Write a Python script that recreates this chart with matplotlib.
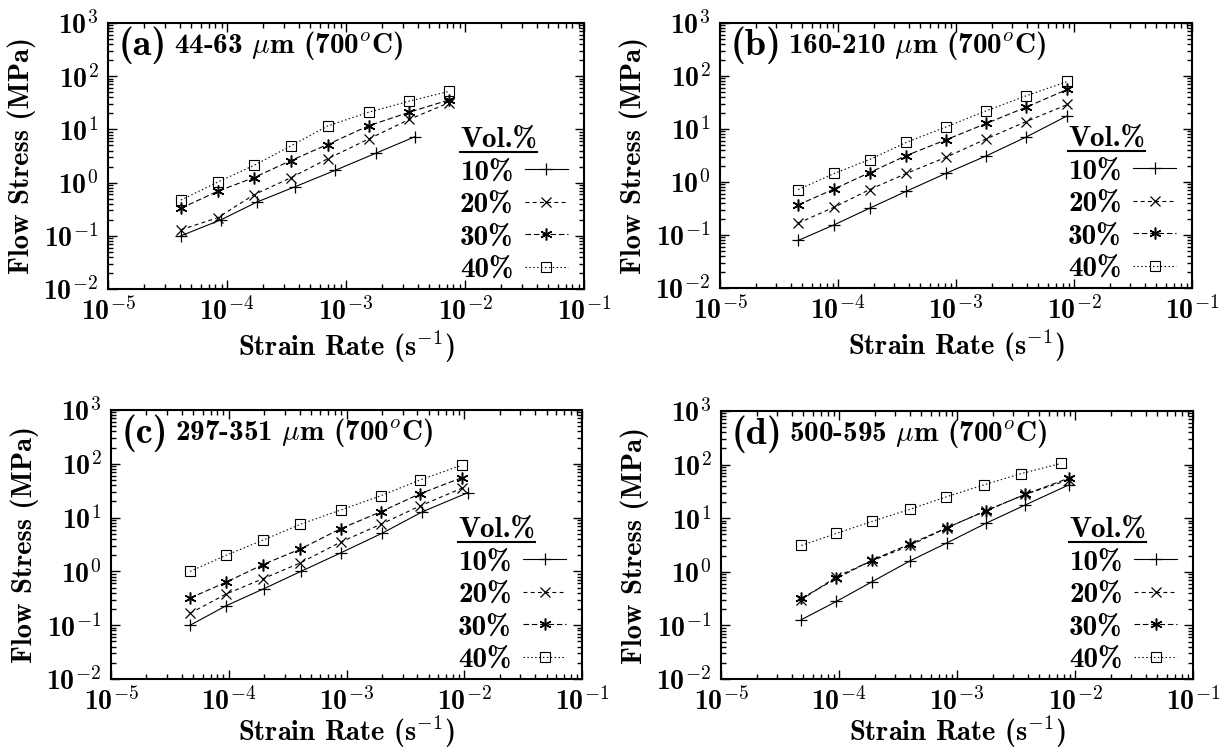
import matplotlib
matplotlib.use("Agg")
import numpy as np
import matplotlib.pyplot as plt
from matplotlib.ticker import LogLocator, NullFormatter, FuncFormatter
from matplotlib.lines import Line2D

plt.rcParams['font.family'] = ['cmb10', 'DejaVu Serif']
plt.rcParams['mathtext.fontset'] = 'cm'
plt.rcParams['axes.formatter.use_mathtext'] = True

# strain rates (1/s)
rate_a10 = [4.1e-5, 8.9e-5, 1.78e-4, 3.7e-4, 8.1e-4, 1.8e-3, 3.8e-3]
rate_a = [4.1e-5, 8.4e-5, 1.68e-4, 3.45e-4, 7.0e-4, 1.55e-3, 3.4e-3, 7.4e-3]
rate_b = [4.6e-5, 9.3e-5, 1.85e-4, 3.8e-4, 8.3e-4, 1.8e-3, 3.9e-3, 8.8e-3]
rate_c = [4.7e-5, 9.5e-5, 1.95e-4, 4.05e-4, 8.9e-4, 1.95e-3, 4.2e-3, 9.5e-3]
rate_c10 = [4.7e-5, 9.5e-5, 2.0e-4, 4.1e-4, 8.9e-4, 2.0e-3, 4.4e-3, 1.07e-2]
rate_d = [4.8e-5, 9.5e-5, 1.9e-4, 4.0e-4, 8.3e-4, 1.75e-3, 3.8e-3, 8.9e-3]
rate_d40 = [4.8e-5, 9.5e-5, 1.9e-4, 4.0e-4, 8.1e-4, 1.7e-3, 3.5e-3, 7.6e-3]

# flow stress (MPa)
a10 = [0.10, 0.20, 0.43, 0.83, 1.7, 3.6, 7.3]
a20 = [0.13, 0.22, 0.59, 1.24, 2.8, 6.6, 15.4, 32]
a30 = [0.33, 0.69, 1.24, 2.6, 5.2, 11.7, 21, 36]
a40 = [0.47, 1.03, 2.1, 4.9, 11.6, 21, 34, 52]

b10 = [0.079, 0.156, 0.32, 0.67, 1.47, 3.1, 7.0, 17.8]
b20 = [0.168, 0.335, 0.72, 1.45, 2.95, 6.5, 13.7, 29]
b30 = [0.37, 0.74, 1.5, 3.16, 6.3, 12.7, 25.6, 56]
b40 = [0.72, 1.45, 2.65, 5.6, 11, 22, 42, 79]

c10 = [0.10, 0.23, 0.48, 1.0, 2.2, 5.1, 12.8, 29]
c20 = [0.167, 0.38, 0.73, 1.44, 3.5, 7.5, 16.4, 35]
c30 = [0.32, 0.63, 1.34, 2.6, 6.2, 12.8, 27.7, 55]
c40 = [1.0, 2.0, 3.8, 7.5, 13.8, 25.4, 50, 94]

d10 = [0.128, 0.28, 0.65, 1.6, 3.5, 8.0, 17.7, 42]
d20 = [0.30, 0.81, 1.6, 3.1, 6.7, 13.7, 28, 52]
d30 = [0.32, 0.75, 1.65, 3.3, 6.7, 13.7, 28, 56]
d40 = [3.1, 5.2, 8.7, 14.7, 25, 42, 68, 105]

vol_labels = ['10%', '20%', '30%', '40%']
panel_tags = ['(a)', '(b)', '(c)', '(d)']
panel_sizes = ['44-63 $\\mu$m (700$^o$C)', '160-210 $\\mu$m (700$^o$C)',
               '297-351 $\\mu$m (700$^o$C)', '500-595 $\\mu$m (700$^o$C)']

panels = [
    [(rate_a10, a10), (rate_a, a20), (rate_a, a30), (rate_a, a40)],
    [(rate_b, b10), (rate_b, b20), (rate_b, b30), (rate_b, b40)],
    [(rate_c10, c10), (rate_c, c20), (rate_c, c30), (rate_c, c40)],
    [(rate_d, d10), (rate_d, d20), (rate_d, d30), (rate_d40, d40)],
]

# style per volume fraction
styles = [
    dict(ls='-', marker='+', ms=9, mew=0.9),
    dict(ls=(0, (3.5, 3)), marker='x', ms=7, mew=0.9),
    dict(ls=(0, (5, 2.5)), marker=(6, 2, 0), ms=8.5, mew=1.1),
    dict(ls=(0, (1.3, 2.2)), marker='s', ms=7, mew=0.8, mfc='none'),
]

# axes boxes in pixels: left, top, right, bottom
W, H = 1228, 749
boxes = [(108, 23, 584, 289), (720, 23, 1192, 288),
         (111, 410, 582, 679), (721, 411, 1193, 679)]
xlabel_y = [-0.15, -0.15, -0.13, -0.13]


def pow10(v, pos):
    return '10$^{%d}$' % int(round(np.log10(v)))


fig = plt.figure(figsize=(W / 100, H / 100), dpi=100)

legends = []
for i in range(4):
    l, t, r, b = boxes[i]
    ax = fig.add_axes([l / W, (H - b) / H, (r - l) / W, (b - t) / H])
    for j in range(4):
        x, y = panels[i][j]
        ax.plot(x, y, color='black', lw=0.8, label=vol_labels[j], **styles[j])
    ax.set_xscale('log')
    ax.set_yscale('log')
    ax.set_xlim(1e-5, 1e-1)
    ax.set_ylim(1e-2, 1e3)
    for axis in (ax.xaxis, ax.yaxis):
        axis.set_major_locator(LogLocator(base=10, numticks=10))
        axis.set_minor_locator(LogLocator(base=10, subs=range(2, 10), numticks=20))
        axis.set_major_formatter(FuncFormatter(pow10))
        axis.set_minor_formatter(NullFormatter())
    ax.tick_params(which='both', direction='in', top=True, right=True, width=1.0)
    ax.tick_params(which='major', length=6.5, labelsize=20)
    ax.tick_params(axis='x', which='major', pad=6)
    ax.tick_params(axis='y', which='major', pad=7)
    ax.tick_params(which='minor', length=3.5)
    for s in ax.spines.values():
        s.set_linewidth(1.5)
    ax.set_xlabel('Strain Rate (s$^{-1}$)', fontsize=20.5)
    ax.set_ylabel('Flow Stress (MPa)', fontsize=20.5)
    ax.xaxis.set_label_coords(0.5, xlabel_y[i])
    ax.yaxis.set_label_coords(-0.152, 0.5)
    tag = ax.text(0.022, 0.915, panel_tags[i], transform=ax.transAxes, fontsize=27.5,
                  va='center', ha='left')
    ax.annotate(panel_sizes[i], xy=(1, 0.5), xycoords=tag, xytext=(5, 0),
                textcoords='offset points', va='center', ha='left', fontsize=21)
    leg = ax.legend(loc='lower right', bbox_to_anchor=(0.966, 0.022), frameon=False,
                    markerfirst=False, fontsize=21, handlelength=1.47,
                    handletextpad=0.4, labelspacing=0.21, borderpad=0,
                    borderaxespad=0, title='Vol.%', title_fontsize=21,
                    alignment='left')
    legends.append(leg)

# underline legend titles
fig.canvas.draw()
for leg in legends:
    bb = leg.get_title().get_window_extent()
    yl = (bb.y0 + 1) / H
    fig.add_artist(Line2D([bb.x0 / W, bb.x1 / W], [yl, yl],
                          transform=fig.transFigure, color='black', lw=1.5))

fig.savefig('out.png', dpi=100)
